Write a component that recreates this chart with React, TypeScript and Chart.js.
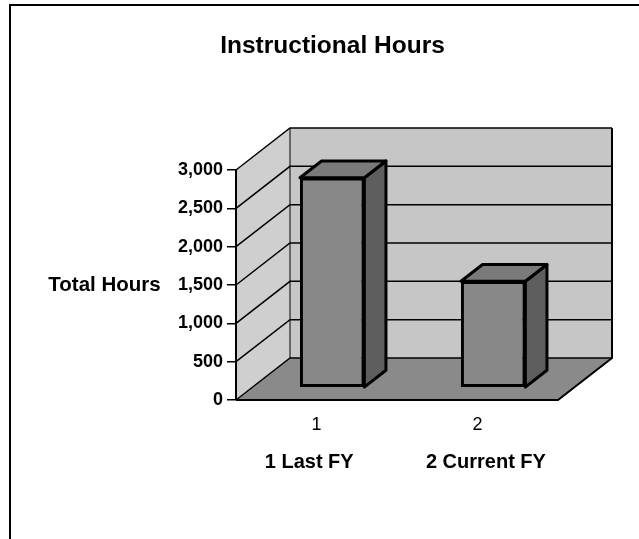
import React, { useEffect, useRef } from 'react';
import { Chart, registerables } from 'chart.js';

Chart.register(...registerables);

// ---- data ----
const chartTitle = 'Instructional Hours';
const categories = ['1', '2'];
const hours = [2740, 1390];
const valueAxisTitle = 'Total Hours';
const categoryAxisNames = ['1 Last FY', '2 Current FY'];
const valueMin = 0;
const valueMax = 3000;
const valueStep = 500;

// ---- styling ----
const FONT = "'Liberation Sans', Arial, sans-serif";
const DEPTH_X = 54;
const DEPTH_Y = 42;
const BAR_FRONT = 0.29;
const BAR_DEPTH = 0.4;
const PAD_LEFT = 107;

function poly(ctx: CanvasRenderingContext2D, pts: number[][]) {
  ctx.beginPath();
  ctx.moveTo(pts[0][0], pts[0][1]);
  for (let i = 1; i < pts.length; i++) ctx.lineTo(pts[i][0], pts[i][1]);
  ctx.closePath();
}

const threeD = {
  id: 'threeD',
  beforeDraw(chart: any) {
    const { ctx, chartArea: a, scales } = chart;
    const y = scales.y;
    const L = a.left, R = a.right, T = a.top, B = a.bottom;
    const dx = DEPTH_X, dy = DEPTH_Y;
    ctx.save();
    ctx.fillStyle = '#ffffff';
    ctx.fillRect(0, 0, chart.width, chart.height);
    // outer frame
    ctx.strokeStyle = '#000';
    ctx.lineWidth = 2;
    ctx.beginPath();
    ctx.moveTo(10, chart.height);
    ctx.lineTo(10, 5);
    ctx.lineTo(chart.width, 5);
    ctx.stroke();
    // back wall
    ctx.fillStyle = '#c6c6c6';
    ctx.fillRect(L + dx, T - dy, R - L, B - T);
    // left wall
    ctx.fillStyle = '#cfcfcf';
    poly(ctx, [[L, T], [L + dx, T - dy], [L + dx, B - dy], [L, B]]);
    ctx.fill();
    // floor
    ctx.fillStyle = '#8a8a8a';
    poly(ctx, [[L, B], [R, B], [R + dx, B - dy], [L + dx, B - dy]]);
    ctx.fill();
    // gridlines on walls
    ctx.strokeStyle = '#000';
    ctx.lineWidth = 1.5;
    ctx.beginPath();
    y.ticks.forEach((t: any) => {
      const py = y.getPixelForValue(t.value);
      ctx.moveTo(L, py);
      ctx.lineTo(L + dx, py - dy);
      ctx.lineTo(R + dx, py - dy);
    });
    ctx.stroke();
    // wall edges
    ctx.lineWidth = 1;
    ctx.beginPath();
    ctx.moveTo(L + dx, T - dy);
    ctx.lineTo(L + dx, B - dy);
    ctx.stroke();
    ctx.lineWidth = 2;
    ctx.beginPath();
    ctx.moveTo(R + dx, T - dy);
    ctx.lineTo(R + dx, B - dy);
    ctx.lineTo(R, B);
    ctx.lineTo(L, B);
    ctx.stroke();
    ctx.restore();
  },
  beforeDatasetsDraw(chart: any) {
    chart.ctx.save();
    chart.ctx.translate(DEPTH_X * BAR_FRONT, -DEPTH_Y * BAR_FRONT);
  },
  afterDatasetsDraw(chart: any) {
    const ctx = chart.ctx;
    ctx.restore();
    const sx = DEPTH_X * BAR_FRONT, sy = DEPTH_Y * BAR_FRONT;
    const bx = DEPTH_X * BAR_DEPTH, by = DEPTH_Y * BAR_DEPTH;
    ctx.save();
    ctx.lineJoin = 'round';
    chart.getDatasetMeta(0).data.forEach((el: any) => {
      const { x, y, base, width } = el.getProps(['x', 'y', 'base', 'width'], true);
      const l = x - width / 2 + sx, r = x + width / 2 + sx;
      const t = y - sy, b = base - sy;
      ctx.fillStyle = '#5e5e5e';
      poly(ctx, [[r, t], [r + bx, t - by], [r + bx, b - by], [r, b]]);
      ctx.fill();
      ctx.strokeStyle = '#000';
      ctx.lineWidth = 3;
      ctx.stroke();
      ctx.fillStyle = '#7a7a7a';
      poly(ctx, [[l, t], [l + bx, t - by], [r + bx, t - by], [r, t]]);
      ctx.fill();
      ctx.stroke();
    });
    // horizontal value-axis title
    const ys = chart.scales.y;
    ctx.fillStyle = '#000';
    ctx.font = `bold 20.5px ${FONT}`;
    ctx.textAlign = 'center';
    ctx.textBaseline = 'middle';
    ctx.fillText(valueAxisTitle, chart.chartArea.left - 131.5, (ys.top + ys.bottom) / 2);
    ctx.restore();
  },
};

export default function App() {
  const ref = useRef<HTMLCanvasElement | null>(null);
  useEffect(() => {
    if (!ref.current) return;
    const xTitle = '   ' + categoryAxisNames[0] + ' '.repeat(13) + categoryAxisNames[1];
    const chart = new Chart(ref.current, {
      type: 'bar',
      data: {
        labels: categories,
        datasets: [
          {
            data: hours,
            backgroundColor: '#888888',
            borderColor: '#000000',
            borderWidth: 3,
            borderSkipped: false,
            barPercentage: 0.4,
            categoryPercentage: 1,
            clip: false as any,
          },
        ],
      },
      options: {
        responsive: false,
        animation: false,
        devicePixelRatio: 1,
        layout: { padding: { left: PAD_LEFT, right: 81, top: 0, bottom: 64.5 } },
        plugins: {
          legend: { display: false },
          tooltip: { enabled: false },
          title: {
            display: true,
            text: chartTitle,
            color: '#000',
            font: { family: FONT, size: 24.5, weight: 'bold' },
            padding: { top: 32, bottom: 108.6 },
          },
        },
        scales: {
          x: {
            offset: true,
            grid: { display: false, drawTicks: false },
            border: { display: false },
            ticks: { color: '#000', font: { family: FONT, size: 18 }, padding: 14 },
            title: {
              display: true,
              text: xTitle,
              color: '#000',
              font: { family: FONT, size: 20, weight: 'bold' },
              padding: 0,
            },
            afterFit: (s: any) => {
              s.height = 74.5;
            },
          },
          y: {
            min: valueMin,
            max: valueMax,
            ticks: {
              stepSize: valueStep,
              color: '#000',
              font: { family: FONT, size: 18, weight: 'bold' },
              padding: 4,
            },
            grid: {
              display: true,
              drawOnChartArea: false,
              drawTicks: true,
              tickLength: 9,
              color: '#000',
              lineWidth: 1.5,
            },
            border: { display: true, color: '#000', width: 2 },
            afterFit: (s: any) => {
              s.width = 236 - PAD_LEFT;
            },
          },
        },
      },
      plugins: [threeD],
    } as any);
    return () => chart.destroy();
  }, []);
  return (
    <div style={{ position: 'absolute', left: 0, top: 0, width: 639, height: 539 }}>
      <canvas ref={ref} width={639} height={539} style={{ display: 'block' }} />
    </div>
  );
}
